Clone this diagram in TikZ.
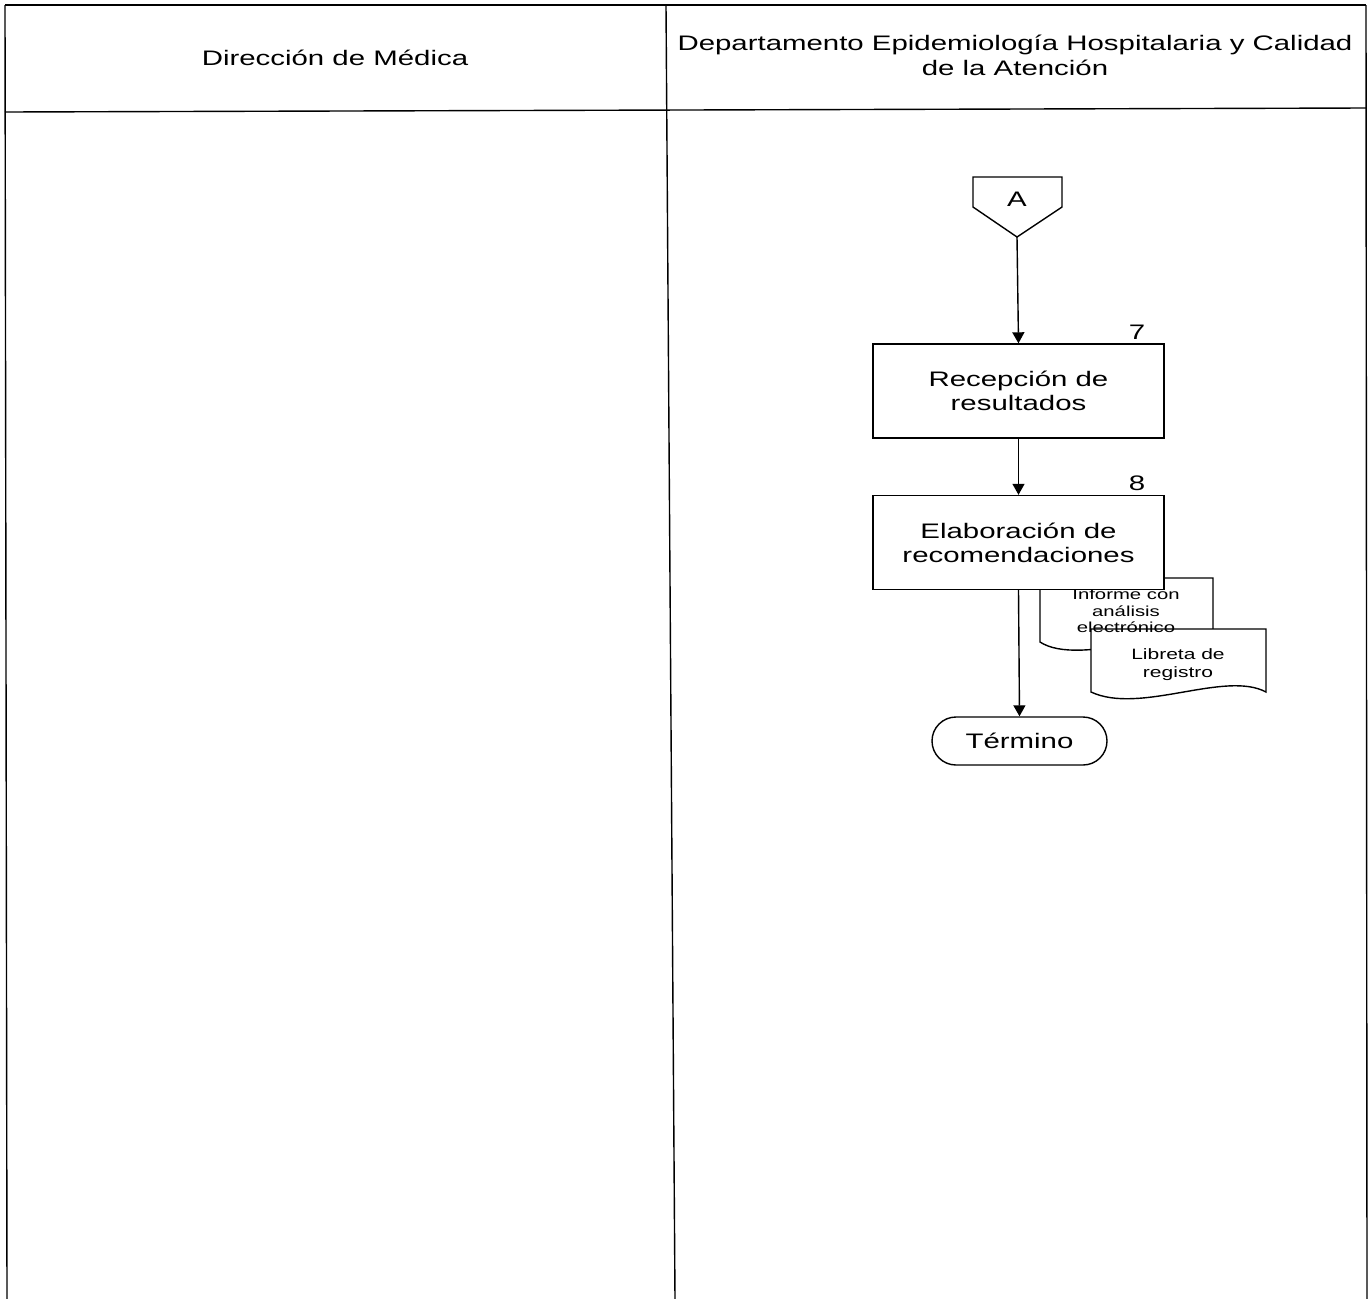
\documentclass[tikz,border=0pt]{standalone}
\usepackage{fontspec}
\setmainfont{Liberation Sans}[FakeStretch=1.4]
\usetikzlibrary{arrows.meta,shapes.misc}
\begin{document}
\begin{tikzpicture}[x=1pt,y=-1pt,
  lane/.style={line width=1.4pt},
  stepbox/.style={draw,line width=1.4pt,fill=white,minimum width=291pt,minimum height=94pt,align=center,font=\fontsize{21}{24}\selectfont,inner sep=0pt},
  flow/.style={line width=1.4pt,-{Triangle[width=12pt,length=11pt]}},
  docshape/.style={draw,line width=1.4pt,fill=white},
  doctext/.style={align=center,inner sep=0pt},
  hdr/.style={align=center,font=\fontsize{21}{25}\selectfont,inner sep=0pt},
  num/.style={font=\fontsize{21}{24}\selectfont,inner sep=0pt},
  term/.style={draw,line width=1.4pt,fill=white,rounded rectangle,minimum width=175pt,minimum height=48pt,inner sep=0pt,font=\fontsize{21}{24}\selectfont}]
\useasboundingbox (0,0) rectangle (1369,1299);
% lanes
\coordinate (tl) at (5,5);
\coordinate (tm) at (666,5);
\coordinate (tr) at (1366,5);
\coordinate (bl) at (7,1299);
\coordinate (bm) at (675,1299);
\coordinate (br) at (1367,1299);
\coordinate (hl) at (5,112);
\coordinate (hr) at (1366,108);
\draw[lane] (tl) -- (tr);
\draw[lane] (tl) -- (bl);
\draw[lane] (tm) -- (bm);
\draw[lane] (tr) -- (br);
\draw[lane] (hl) -- (hr);
\node[hdr] (h1) at (335,58) {Dirección de Médica};
\node[hdr] (h2) at (1015,55) {Departamento Epidemiología Hospitalaria y Calidad\\de la Atención};
% off-page connector A
\draw[line width=1.4pt,fill=white] (973,177) -- (1062,177) -- (1062,207) -- (1017,237) -- (973,207) -- cycle;
\node[font=\fontsize{21}{24}\selectfont,inner sep=0pt] (A) at (1017,199) {A};
\coordinate (Atip) at (1017,237);
% step 7
\node[stepbox] (b7) at (1018.5,391) {Recepción de\\resultados};
\node[num] (n7) at (1137,332) {7};
% documents (behind step 8)
\draw[docshape] (1040,578) -- (1213,578) -- (1213,640) .. controls (1185,622) and (1080,668) .. (1040,642) -- cycle;
\draw[docshape] (1091,629) -- (1266,629) -- (1266,692) .. controls (1225,670) and (1140,715) .. (1091,692) -- cycle;
\node[doctext,font=\fontsize{14.5}{16.5}\selectfont] (d1) at (1126,611) {Informe con\\análisis\\electrónico};
\node[doctext,font=\fontsize{15}{18}\selectfont] (d2) at (1178,665) {Libreta de\\registro};
% step 8
\node[stepbox] (b8) at (1018.5,542.5) {Elaboración de\\recomendaciones};
\node[num] (n8) at (1137,483) {8};
% end
\node[term] (t) at (1019.5,741) {Término};
% connectors
\draw[flow] (Atip) -- (b7.north);
\draw[flow] (b7.south) -- (b8.north);
\draw[flow] (b8.south) -- (t.north);
\end{tikzpicture}
\end{document}
